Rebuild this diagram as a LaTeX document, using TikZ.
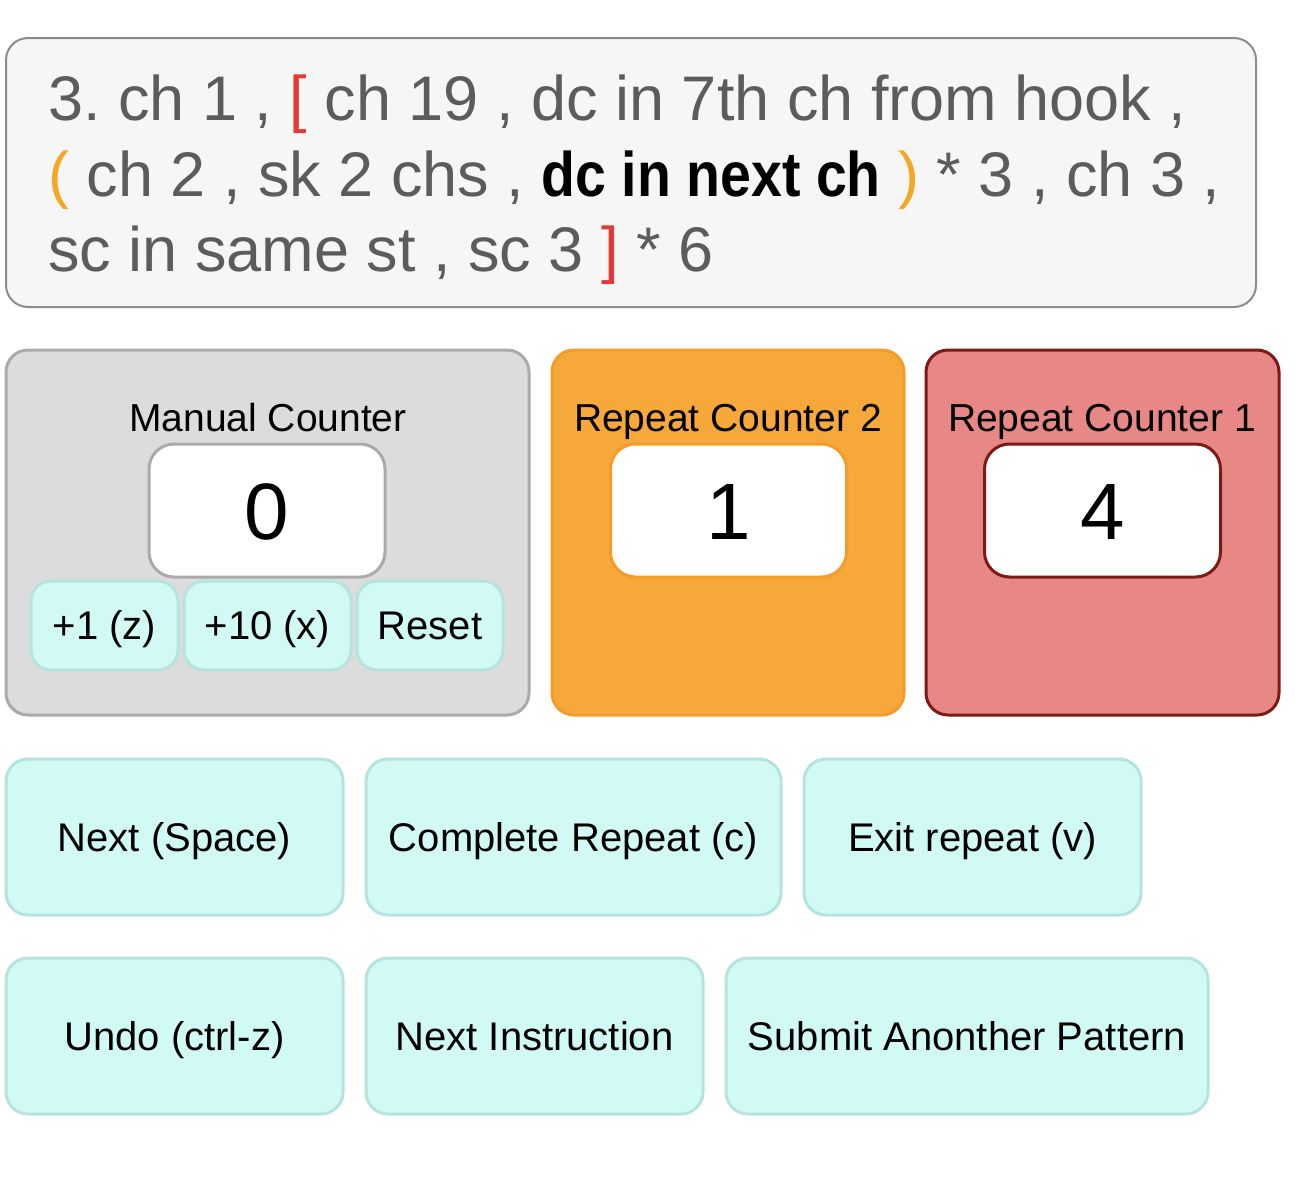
\documentclass[tikz,border=0pt]{standalone}
\usepackage{fontspec}
\setmainfont{Liberation Sans}
\usetikzlibrary{positioning}
\frenchspacing
\definecolor{txtgray}{HTML}{5C5C5C}
\definecolor{bracketred}{HTML}{E53935}
\definecolor{parenorange}{HTML}{F5A623}
\definecolor{panelfill}{HTML}{F6F6F6}
\definecolor{panelline}{HTML}{8C8C8C}
\definecolor{grayfill}{HTML}{DCDCDC}
\definecolor{grayline}{HTML}{AAAAAA}
\definecolor{orangefill}{HTML}{F7A83A}
\definecolor{orangeline}{HTML}{F49B29}
\definecolor{redfill}{HTML}{E88886}
\definecolor{redline}{HTML}{7E1A14}
\definecolor{btnfill}{HTML}{D2FAF5}
\definecolor{btnline}{HTML}{B5E3DE}

\begin{document}
\begin{tikzpicture}[x=1pt,y=-1pt,inner sep=0pt,
    counterbox/.style={rounded corners=22pt,line width=3pt},
    valbox/.style={draw,fill=white,rounded corners=25pt,line width=3pt,
      minimum width=236pt,minimum height=133pt,
      font=\fontsize{80}{96}\selectfont,text height=57.3pt,text depth=0pt},
    btn/.style={draw=btnline,fill=btnfill,rounded corners=22pt,line width=3pt,
      font=\fontsize{40}{48}\selectfont,text height=28.6pt,text depth=0pt},
    minibtn/.style={btn,minimum height=89pt,rounded corners=20pt},
    bigbtn/.style={btn,minimum height=156pt},
    title/.style={anchor=base,font=\fontsize{39}{48}\selectfont},
    instr/.style={anchor=base west,text=txtgray,font=\fontsize{63}{76}\selectfont}]
    \useasboundingbox (0,0) rectangle (1295,1181);
    % instruction panel
    \draw[panelline,fill=panelfill,rounded corners=22pt,line width=2pt] (6,38) rectangle (1256,307);
    \node[instr] (line1) at (48,120) {3. ch 1 , {\color{bracketred}[} ch 19 , dc in 7th ch from hook ,};
    \node[instr] (line2) at (48,196) {{\color{parenorange}(} ch 2 , sk 2 chs , \scalebox{0.88}[1]{\color{black}\bfseries dc in next ch} {\color{parenorange})} * 3 , ch 3 ,};
    \node[instr] (line3) at (48,271) {sc in same st , sc 3 {\color{bracketred}]} * 6};
    % counters
    \draw[counterbox,draw=grayline,fill=grayfill] (6,350) rectangle (529,715);
    \node[title] (manualtitle) at (268,431) {Manual Counter};
    \node[valbox,draw=grayline] (manualval) at (267,510.5) {0};
    \node[minibtn,minimum width=147pt] (plusone) at (104.5,625.5) {+1 (z)};
    \node[minibtn,minimum width=167pt] (plusten) at (267.5,625.5) {+10 (x)};
    \node[minibtn,minimum width=146pt] (resetbtn) at (430,625.5) {Reset};
    \draw[counterbox,draw=orangeline,fill=orangefill] (552,350) rectangle (904,715);
    \node[title] (rep2title) at (728,431) {Repeat Counter 2};
    \node[valbox,draw=orangeline] (rep2val) at (728.5,510.5) {1};
    \draw[counterbox,draw=redline,fill=redfill] (926,350) rectangle (1279,715);
    \node[title] (rep1title) at (1102,431) {Repeat Counter 1};
    \node[valbox,draw=redline] (rep1val) at (1102.5,510.5) {4};
    % action buttons
    \node[bigbtn,minimum width=337pt] (nextbtn) at (174.5,837) {Next (Space)};
    \node[bigbtn,minimum width=415pt] (completebtn) at (573.5,837) {Complete Repeat (c)};
    \node[bigbtn,minimum width=337pt] (exitbtn) at (972.5,837) {Exit repeat (v)};
    \node[bigbtn,minimum width=337pt] (undobtn) at (174.5,1036) {Undo (ctrl-z)};
    \node[bigbtn,minimum width=337pt] (nextinstr) at (534.5,1036) {Next Instruction};
    \node[bigbtn,minimum width=482pt] (submitbtn) at (967,1036) {Submit Anonther Pattern};
\end{tikzpicture}
\end{document}
